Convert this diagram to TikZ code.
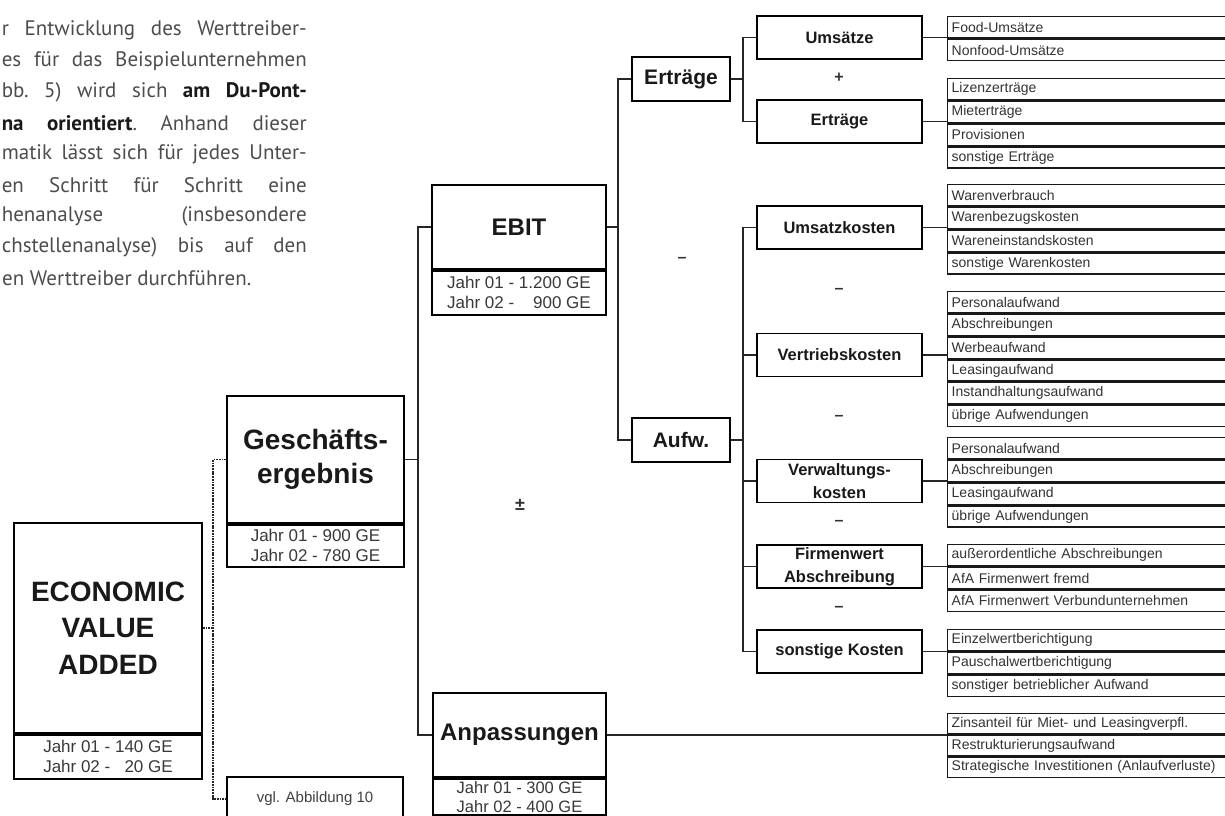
\documentclass[tikz,border=0pt]{standalone}
\usepackage{fontspec}
\setmainfont{Liberation Sans}
\newfontfamily\bodyfont{PT Sans}
\newcommand\justline[1]{\makebox[305pt][s]{\frenchspacing\spaceskip=0.22em plus 1fil minus 0.12em #1}}
\begin{document}
\begin{tikzpicture}[x=1pt,y=-1pt,
  box/.style={draw=black, line width=1.8pt, inner sep=0pt, align=center, text=black!90},
  yearbox/.style={draw=black, line width=1.8pt, inner sep=0pt, align=center,
    font=\fontsize{17}{20}\selectfont, text=black!78},
  lvlthree/.style={box, minimum width=98, minimum height=44, font=\bfseries\fontsize{21}{24}\selectfont},
  lvlfour/.style={box, minimum width=165, minimum height=43, font=\bfseries\fontsize{16.5}{23}\selectfont},
  cell/.style={draw=black!90, line width=1.4pt, anchor=north west, inner xsep=4pt, inner ysep=0pt,
    text width=280pt, align=left, minimum height=21.3, font=\fontsize{14}{15}\selectfont, text=black!80},
  cellb/.style={cell, anchor=north},
  conn/.style={draw=black!85, line width=1.5pt},
  dotconn/.style={draw=black!85, line width=1.3pt, dash pattern=on 1.8pt off 0.9pt},
  sign/.style={inner sep=0pt, font=\bfseries\fontsize{16}{16}\selectfont, text=black!80},
  bodyline/.style={anchor=east, inner sep=0pt, font=\bodyfont\fontsize{21}{24}\selectfont, text=black!70}
]
\useasboundingbox (0,0) rectangle (1225,815);
\clip (0,0) rectangle (1225,815);

% ---------- introductory paragraph (justified lines)
\node[bodyline] (p1) at (307,30)  {\justline{r Entwicklung des Werttreiber-}};
\node[bodyline] (p2) at (307,61)  {\justline{es für das Beispielunternehmen}};
\node[bodyline] (p3) at (307,92)  {\justline{bb. 5) wird sich \textcolor{black!90}{\bfseries am Du-Pont-}}};
\node[bodyline] (p4) at (307,123) {\justline{\textcolor{black!90}{\bfseries na orientiert}. Anhand dieser}};
\node[bodyline] (p5) at (307,154) {\justline{matik lässt sich für jedes Unter-}};
\node[bodyline] (p6) at (307,185) {\justline{en Schritt für Schritt eine}};
\node[bodyline] (p7) at (307,216) {\justline{henanalyse (insbesondere}};
\node[bodyline] (p8) at (307,247) {\justline{chstellenanalyse) bis auf den}};
\node[bodyline, anchor=west] (p9) at (2,278) {en Werttreiber durchführen.};

% ---------- level 1: EVA
\node[box, minimum width=188, minimum height=210, font=\bfseries\fontsize{28}{36.5}\selectfont]
  (eva) at (108,628) {ECONOMIC\\VALUE\\ADDED};
\node[yearbox, minimum width=188, minimum height=44, anchor=north] (evay) at (eva.south)
  {Jahr 01 - 140 GE\\Jahr 02 - \phantom{1}20 GE};

% ---------- level 2
\node[box, minimum width=177, minimum height=127, font=\bfseries\fontsize{28}{34}\selectfont]
  (ges) at (315.5,459.5) {Geschäfts-\\ergebnis};
\node[yearbox, minimum width=177, minimum height=42, anchor=north] (gesy) at (ges.south)
  {Jahr 01 - 900 GE\\Jahr 02 - 780 GE};
\node[box, minimum width=176, minimum height=44, font=\fontsize{15}{16}\selectfont, text=black!75]
  (vgl) at (315,799) {vgl. Abbildung 10};

% ---------- level 3: EBIT and Anpassungen
\node[box, minimum width=174, minimum height=84, font=\bfseries\fontsize{24}{28}\selectfont]
  (ebit) at (519,227) {EBIT};
\node[yearbox, minimum width=174, minimum height=44, anchor=north] (ebity) at (ebit.south)
  {Jahr 01 - 1.200 GE\\Jahr 02 - \phantom{1.}900 GE};
\node[box, minimum width=173, minimum height=84, font=\bfseries\fontsize{24}{28}\selectfont]
  (anp) at (519.5,735) {Anpassungen};
\node[yearbox, minimum width=173, minimum height=36, font=\fontsize{16.5}{19}\selectfont, anchor=north]
  (anpy) at (anp.south) {Jahr 01 - 300 GE\\Jahr 02 - 400 GE};
\node[sign, font=\bfseries\fontsize{18}{18}\selectfont] (pm) at (520,505) {±};

% ---------- Erträge / Aufwendungen
\node[lvlthree] (ertr) at (681,79) {Erträge};
\node[lvlthree] (aufw) at (681,440) {Aufw.};
\node[sign] (m0) at (682,260) {–};

% ---------- level 4
\node[lvlfour] (ums)  at (839.5,37.5)  {Umsätze};
\node[lvlfour] (ertb) at (839.5,121.5) {Erträge};
\node[lvlfour] (uk)   at (839.5,227.5) {Umsatzkosten};
\node[lvlfour] (vk)   at (839.5,355)   {Vertriebskosten};
\node[lvlfour] (vwk)  at (839.5,481)   {Verwaltungs-\\kosten};
\node[lvlfour] (fw)   at (839.5,566.5) {Firmenwert\\Abschreibung};
\node[lvlfour] (sk)   at (839.5,651.5) {sonstige Kosten};
\node[sign] (plus) at (839,78)  {+};
\node[sign] (m1)   at (839,291) {–};
\node[sign] (m2)   at (839,418) {–};
\node[sign] (m3)   at (839,523) {–};
\node[sign] (m4)   at (839,609) {–};

% ---------- detail lists
\node[cell] (l1a) at (947,16) {Food-Umsätze};
\node[cellb] (l1b) at (l1a.south) {Nonfood-Umsätze};

\node[cell] (l2a) at (947,78) {Lizenzerträge};
\node[cellb] (l2b) at (l2a.south) {Mieterträge};
\node[cellb] (l2c) at (l2b.south) {Provisionen};
\node[cellb] (l2d) at (l2c.south) {sonstige Erträge};

\node[cell] (l3a) at (947,184) {Warenverbrauch};
\node[cellb] (l3b) at (l3a.south) {Warenbezugskosten};
\node[cellb] (l3c) at (l3b.south) {Wareneinstandskosten};
\node[cellb] (l3d) at (l3c.south) {sonstige Warenkosten};

\node[cell] (l4a) at (947,291) {Personalaufwand};
\node[cellb] (l4b) at (l4a.south) {Abschreibungen};
\node[cellb] (l4c) at (l4b.south) {Werbeaufwand};
\node[cellb] (l4d) at (l4c.south) {Leasingaufwand};
\node[cellb] (l4e) at (l4d.south) {Instandhaltungsaufwand};
\node[cellb] (l4f) at (l4e.south) {übrige Aufwendungen};

\node[cell] (l5a) at (947,437) {Personalaufwand};
\node[cellb] (l5b) at (l5a.south) {Abschreibungen};
\node[cellb] (l5c) at (l5b.south) {Leasingaufwand};
\node[cellb] (l5d) at (l5c.south) {übrige Aufwendungen};

\node[cell] (l6a) at (947,544) {außerordentliche Abschreibungen};
\node[cellb] (l6b) at (l6a.south) {AfA Firmenwert fremd};
\node[cellb] (l6c) at (l6b.south) {AfA Firmenwert Verbundunternehmen};

\node[cell] (l7a) at (947,629) {Einzelwertberichtigung};
\node[cellb] (l7b) at (l7a.south) {Pauschalwertberichtigung};
\node[cellb] (l7c) at (l7b.south) {sonstiger betrieblicher Aufwand};

\node[cell, minimum height=20.3] (l8a) at (947,713) {Zinsanteil für Miet- und Leasingverpfl.};
\node[cellb, minimum height=20.3] (l8b) at (l8a.south) {Restrukturierungsaufwand};
\node[cellb, minimum height=20.3] (l8c) at (l8b.south) {Strategische Investitionen (Anlaufverluste)};

% ---------- bus lines
\coordinate (busa) at (213,0);
\coordinate (busb) at (418,0);
\coordinate (busc) at (618,0);
\coordinate (busd) at (743,0);

\draw[dotconn] (eva.east) -- (eva.east -| busa);
\draw[dotconn] (ges.west) -- (ges.west -| busa) -- (vgl.west -| busa) -- (vgl.west);

\draw[conn] (ges.east) -- (ges.east -| busb);
\draw[conn] (ebit.west) -- (ebit.west -| busb) -- (anp.west -| busb) -- (anp.west);

\draw[conn] (ebit.east) -- (ebit.east -| busc);
\draw[conn] (ertr.west) -- (ertr.west -| busc) -- (aufw.west -| busc) -- (aufw.west);

\draw[conn] (ertr.east) -- (ertr.east -| busd);
\draw[conn] (ums.west) -- (ums.west -| busd) -- (ertb.west -| busd) -- (ertb.west);
\draw[conn] (aufw.east) -- (aufw.east -| busd);
\draw[conn] (uk.west) -- (uk.west -| busd) -- (sk.west -| busd) -- (sk.west);
\draw[conn] (vk.west) -- (vk.west -| busd);
\draw[conn] (vwk.west) -- (vwk.west -| busd);
\draw[conn] (fw.west) -- (fw.west -| busd);

% ---------- links to the detail lists
\draw[conn] (ums.east)  -- (ums.east -| l1a.west);
\draw[conn] (ertb.east) -- (ertb.east -| l2a.west);
\draw[conn] (uk.east)   -- (uk.east -| l3a.west);
\draw[conn] (vk.east)   -- (vk.east -| l4a.west);
\draw[conn] (vwk.east)  -- (vwk.east -| l5a.west);
\draw[conn] (fw.east)   -- (fw.east -| l6a.west);
\draw[conn] (sk.east)   -- (sk.east -| l7a.west);
\draw[conn] (anp.east)  -- (anp.east -| l8a.west);
\end{tikzpicture}
\end{document}
